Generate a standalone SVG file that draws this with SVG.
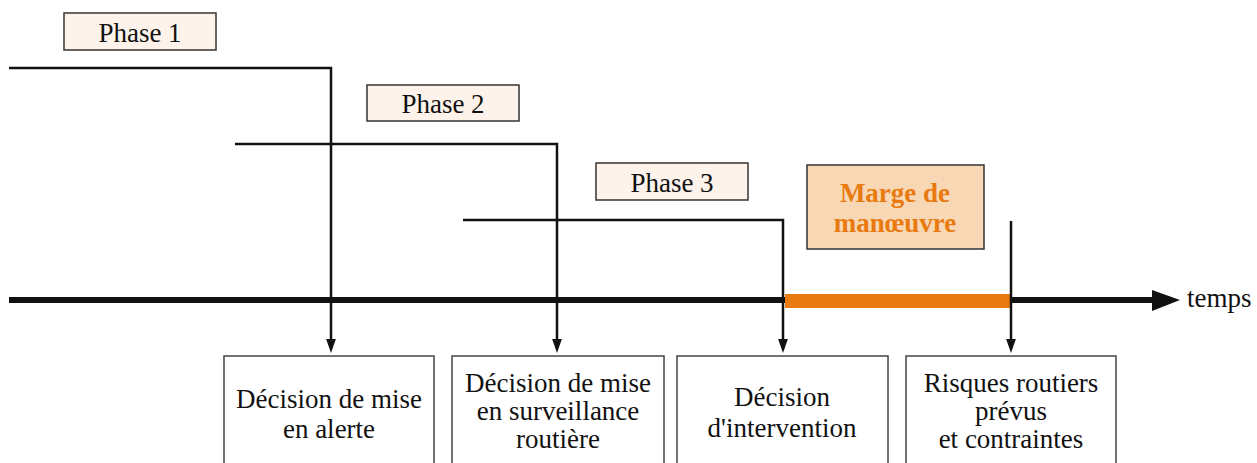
<svg xmlns="http://www.w3.org/2000/svg" width="1257" height="463" viewBox="0 0 1257 463">
<defs>
<style>
text{font-family:'Liberation Serif','DejaVu Serif',serif;font-size:27px;fill:#111;text-anchor:middle}
.phase rect{fill:#FDF3EA;stroke:#333;stroke-width:1.5}
.box rect{fill:#fff;stroke:#444;stroke-width:1.5}
.ln{fill:none;stroke:#111;stroke-width:2.5}
.marge rect{fill:#F8D8B4;stroke:#333;stroke-width:1.5}
.marge text{fill:#E87A10;font-weight:bold}
</style>
<marker id="ah" markerUnits="userSpaceOnUse" markerWidth="14" markerHeight="20" refX="13" refY="7" orient="auto" viewBox="0 0 20 14">
<path d="M0,0 L20,7 L0,14 Z" fill="#111"/>
</marker>
</defs>
<g id="phase1" class="phase"><rect x="64" y="13" width="152" height="37"/><text x="140" y="42">Phase 1</text></g>
<g id="phase2" class="phase"><rect x="367" y="85" width="152" height="36"/><text x="443" y="113">Phase 2</text></g>
<g id="phase3" class="phase"><rect x="596" y="163" width="152" height="37"/><text x="672" y="192">Phase 3</text></g>
<g id="marge" class="marge"><rect x="807" y="165" width="177" height="84"/><text x="895" y="202">Marge de</text><text x="895" y="232">manœuvre</text></g>
<g id="connectors">
<line x1="9" y1="300" x2="1160" y2="300" stroke="#111" stroke-width="6"/>
<path d="M1152,290 L1180,300 L1152,311 Z" fill="#111"/>
<line x1="785" y1="301" x2="1010" y2="301" stroke="#E87A10" stroke-width="14"/>
<path class="ln" d="M9,68 H331 V348" marker-end="url(#ah)"/>
<path class="ln" d="M235,144 H557 V348" marker-end="url(#ah)"/>
<path class="ln" d="M463,220 H783 V348" marker-end="url(#ah)"/>
<path class="ln" d="M1011,221 V348" marker-end="url(#ah)"/>
</g>
<text x="1187" y="307" style="text-anchor:start">temps</text>
<g id="box1" class="box"><rect x="224" y="356" width="210" height="120"/><text x="329" y="408">Décision de mise</text><text x="329" y="438">en alerte</text></g>
<g id="box2" class="box"><rect x="452" y="356" width="212" height="120"/><text x="558" y="392">Décision de mise</text><text x="558" y="420">en surveillance</text><text x="558" y="448">routière</text></g>
<g id="box3" class="box"><rect x="677" y="356" width="211" height="120"/><text x="782" y="406">Décision</text><text x="782" y="437">d'intervention</text></g>
<g id="box4" class="box"><rect x="906" y="356" width="210" height="120"/><text x="1011" y="392">Risques routiers</text><text x="1011" y="420">prévus</text><text x="1011" y="448">et contraintes</text></g>
</svg>
